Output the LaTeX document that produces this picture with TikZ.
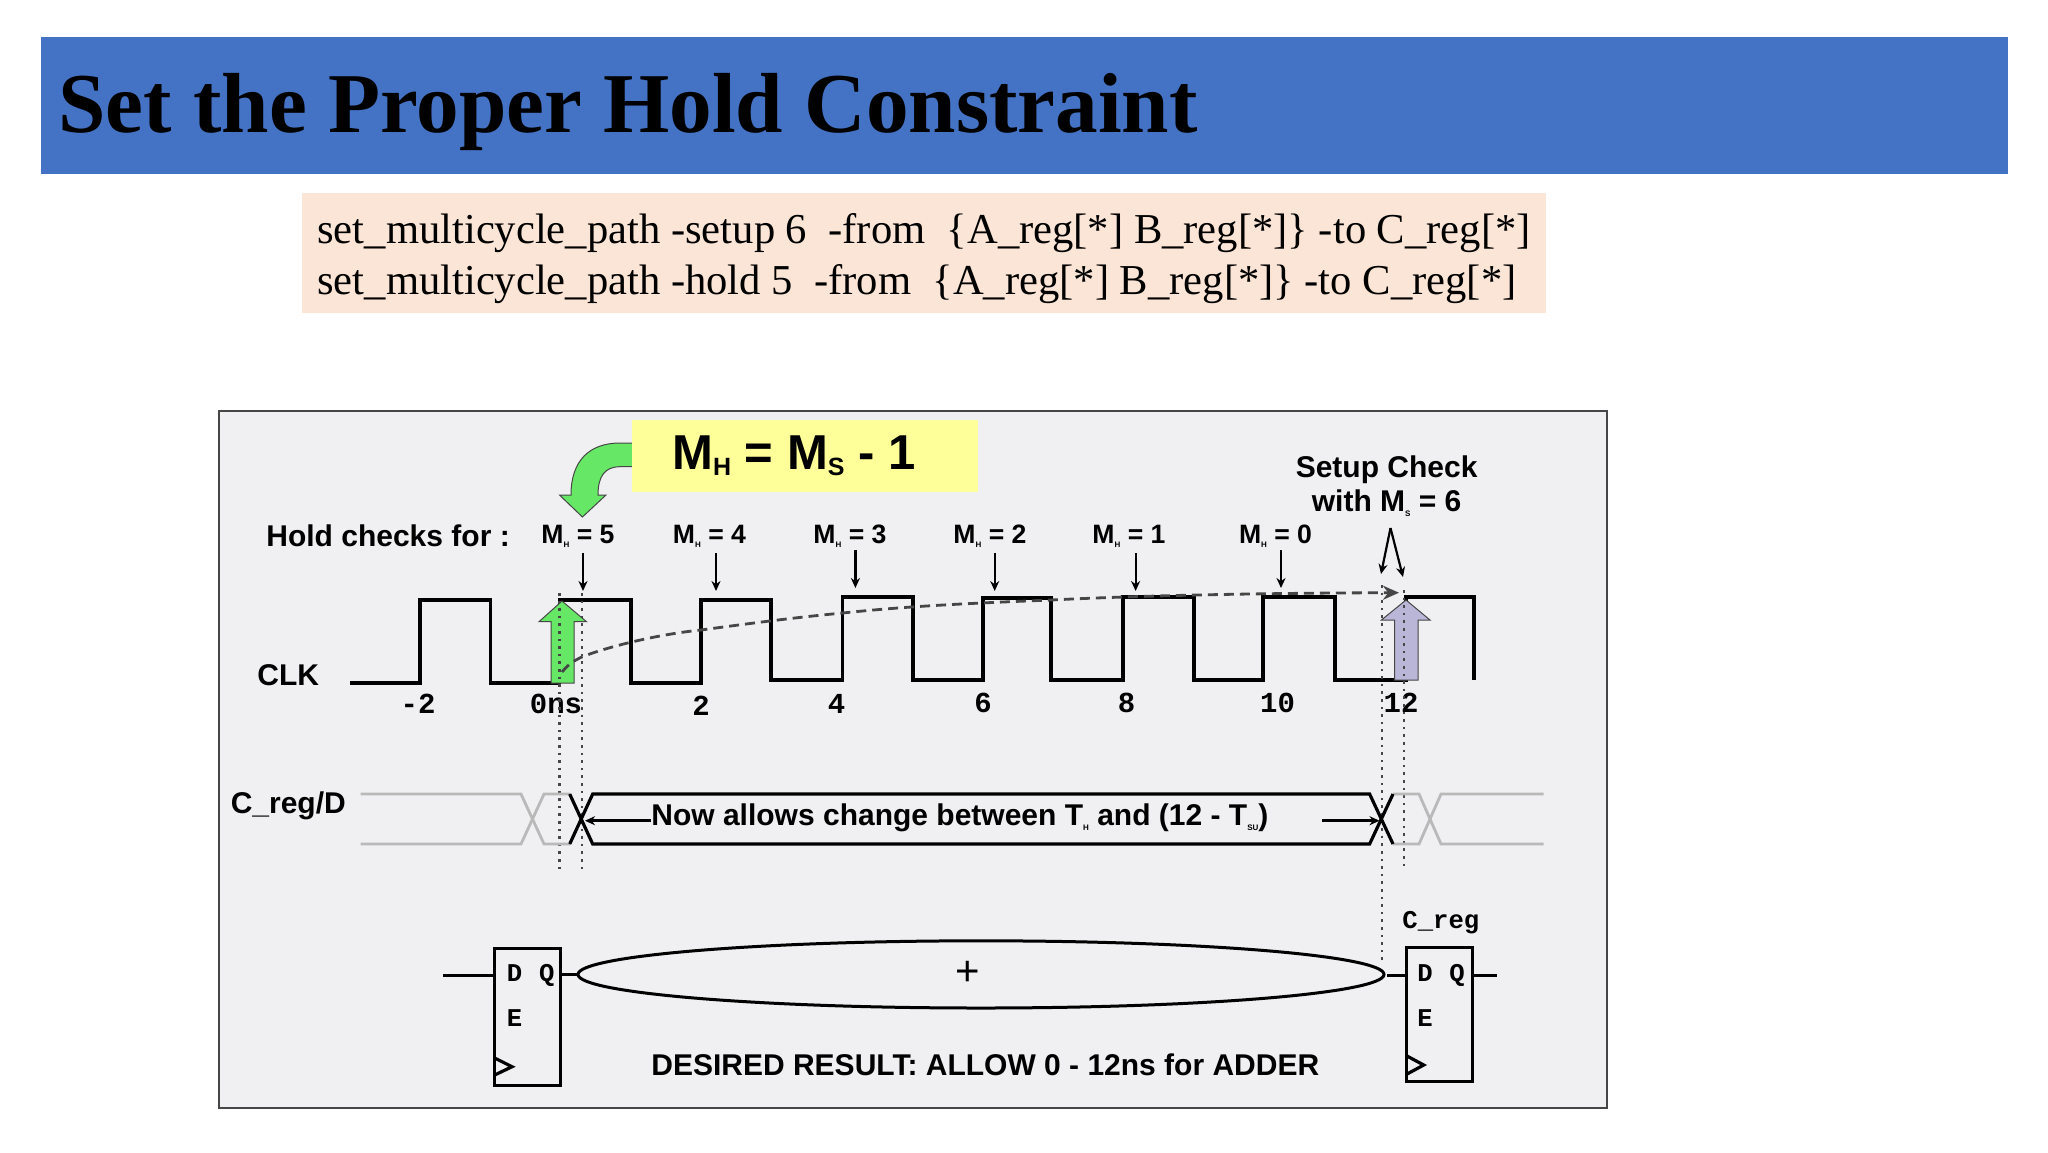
\documentclass[tikz,border=0pt]{standalone}
\usepackage{fontspec}
\setmainfont{Liberation Serif}
\setsansfont{Liberation Sans}
\setmonofont{Liberation Mono}
\usetikzlibrary{shapes.geometric,arrows.meta,positioning,calc}
\definecolor{bandblue}{RGB}{68,114,196}
\definecolor{codepeach}{RGB}{251,229,214}
\definecolor{panelgray}{RGB}{240,240,242}
\definecolor{noteyellow}{RGB}{255,255,153}
\definecolor{edgegreen}{RGB}{102,232,102}
\definecolor{edgepurple}{RGB}{186,182,216}
\definecolor{busgray}{RGB}{185,185,185}
\definecolor{darkgray}{RGB}{70,70,70}
\newcommand{\fs}[1]{\fontsize{#1}{#1}\selectfont}
\newcommand{\subH}[1]{\raisebox{-0.35ex}{\fontsize{4}{4}\selectfont #1}}
\tikzset{
  lbl/.style    ={inner sep=0pt, font=\sffamily\bfseries\fs{15}},
  lblw/.style   ={lbl, anchor=base west},
  lblc/.style   ={lbl, anchor=base},
  ticklbl/.style={inner sep=0pt, anchor=base, font=\ttfamily\bfseries\fs{14.5}},
  pinlbl/.style ={inner sep=0pt, anchor=base, font=\ttfamily\bfseries\fs{12.8}},
  codeline/.style={inner sep=0pt, anchor=base west, font=\fs{21.3}},
  ffbox/.style  ={rectangle, draw=black, line width=1.5pt, fill=none, inner sep=0pt,
                  minimum width=33pt},
  wire/.style   ={line width=1.6pt, draw=black},
  busblk/.style ={line width=1.6pt, draw=black},
  busgry/.style ={line width=1.4pt, draw=busgray},
  dots/.style   ={line width=1.2pt, draw=darkgray, dash pattern=on 1.3pt off 2.5pt},
  flow/.style   ={-{Stealth[length=5pt,width=4.5pt]}, line width=1.1pt, draw=black},
  bigup/.style  ={draw=darkgray, line width=0.5pt}
}
\begin{document}
\begin{tikzpicture}[x=0.5pt,y=-0.5pt]
\useasboundingbox (0,0) rectangle (2048,1152);
% Title band and code lines
\node[rectangle, fill=bandblue, minimum width=983.5pt, minimum height=68.5pt, inner sep=0pt, anchor=north west] (band) at (40.5,36.5) {};
\node[inner sep=0pt, anchor=base west, font=\bfseries\fs{42.6}] (title) at (58,132) {Set the Proper Hold Constraint};
\node[rectangle, fill=codepeach, minimum width=622pt, minimum height=60pt, inner sep=0pt, anchor=north west] (codebox) at (302,193) {};
\node[codeline] (setupline) at (317,243) {set\_multicycle\_path -setup 6\ \ -from\ \ \{A\_reg[*] B\_reg[*]\} -to C\_reg[*]};
\node[codeline] (holdline) at (317,294) {set\_multicycle\_path -hold 5\ \ -from\ \ \{A\_reg[*] B\_reg[*]\} -to C\_reg[*]};
% Panel
\node[rectangle, draw=darkgray, line width=1pt, fill=panelgray, minimum width=694pt, minimum height=348.5pt, inner sep=0pt, anchor=north west] (panel) at (218,410) {};
% Bent green arrow behind the yellow note
\filldraw[fill=edgegreen, draw=darkgray, line width=0.5pt] (634,443) -- (620,443) .. controls (590,443) and (571,460) .. (571,495) -- (559.5,495) -- (582.4,517) -- (606,495) -- (598,495) .. controls (598,476) and (605,466.7) .. (620,466.7) -- (634,466.7);
\node[rectangle, fill=noteyellow, minimum width=172.8pt, minimum height=36pt, inner sep=0pt, anchor=north west] (mhbox) at (632,419.5) {};
\node[lblw, font=\sffamily\bfseries\fs{24.5}] (mhtext) at (672,469) {M\raisebox{-0.25ex}{\fs{12.5}H} = M\raisebox{-0.25ex}{\fs{12.5}S} - 1};
% Hold checks
\node[lblw] (holdlbl) at (266,546.7) {Hold checks for :};
\foreach \x/\xa/\ya/\yb/\n/\m in {578/583/553/591/5/a, 709.5/716/553/591/4/b, 850/855.4/550/588/3/c, 990/994.7/553/591/2/d, 1129/1135.6/553/591/1/e, 1275.5/1281/550/588/0/f}{
  \node[lblc, font=\sffamily\bfseries\fs{13.3}] (hold\m) at (\x,543) {M\subH{H} = \n};
  \coordinate (hs\m) at (\xa,\ya);
  \coordinate (he\m) at (\xa,\yb);
  \draw[flow] (hs\m) -- (he\m);
}
\node[lblc] (setuplbla) at (1386.6,477) {Setup Check};
\node[lblc] (setuplblb) at (1386.6,511) {with M\subH{S} = 6};
\coordinate (apex) at (1390.5,528);
\coordinate (setupl) at (1381,574);
\coordinate (setupr) at (1403,577);
\draw[flow] (apex) -- (setupl);
\draw[flow] (apex) -- (setupr);
% Clock
\node[lblw] (clklbl) at (257,685) {CLK};
\draw[wire] (350,683) -- (420,683) -- (420,600) -- (490.6,600) -- (490.6,683) -- (559.5,683) -- (559.5,600) -- (631,600) -- (631,683) -- (701,683) -- (701,600) -- (771,600) -- (771,680) -- (842.6,680) -- (842.6,597) -- (913,597) -- (913,680) -- (983,680) -- (983,598) -- (1051,598) -- (1051,680) -- (1123,680) -- (1123,597) -- (1194,597) -- (1194,680) -- (1263,680) -- (1263,597) -- (1335,597) -- (1335,680) -- (1406,680) -- (1406,597) -- (1474,597) -- (1474,680);
\filldraw[fill=edgegreen, draw=darkgray, line width=0.5pt] (551,683) -- (551,621.7) -- (539,621.7) -- (562,601) -- (586.5,621.7) -- (574,621.7) -- (574,683) -- cycle;
\filldraw[fill=edgepurple, draw=darkgray, line width=0.5pt] (1394.5,680) -- (1394.5,620) -- (1381.4,620) -- (1406,600) -- (1430,620) -- (1418,620) -- (1418,680) -- cycle;
\foreach \x/\y/\t/\m in {418/713/-2/a, 556/713/0ns/b, 701/715/2/c, 836.5/713/4/d, 983/712/6/e, 1126.5/712/8/f, 1277.5/712/10/g, 1401/712/12/h}{
  \node[ticklbl] (tick\m) at (\x,\y) {\t};
}
% Dotted edges
\foreach \x/\ya/\yb/\m in {559.5/593/870/a, 582/593/871.6/b, 1381.8/585/963/c, 1404/590/866/d}{
  \coordinate (dots\m) at (\x,\ya);
  \coordinate (dote\m) at (\x,\yb);
  \draw[dots] (dots\m) -- (dote\m);
}
\draw[line width=1.4pt, draw=darkgray, dash pattern=on 5pt off 3pt, -{Stealth[length=8pt,width=7pt,open]}] (562,672) .. controls (570,662) and (578,659) .. (582.4,656.7) .. controls (610,646) and (660,634) .. (701,630) .. controls (760,622) and (800,617) .. (842.6,613) .. controls (900,607) and (950,604) .. (1051,600) .. controls (1150,595) and (1280,593) .. (1399,592.7);
% Data bus
\node[lblw] (buslbl) at (230.4,813) {C\_reg/D};
\draw[busgry] (360.5,794) -- (521,794) -- (544,844) -- (570,844);
\draw[busgry] (360.5,844) -- (521,844) -- (544,794) -- (570,794);
\draw[busgry] (1393,794) -- (1419,794) -- (1441,844) -- (1543.5,844);
\draw[busgry] (1393,844) -- (1419,844) -- (1441,794) -- (1543.5,794);
\draw[busblk] (569.7,794) -- (592.7,844) -- (1369.6,844) -- (1393,794);
\draw[busblk] (569.7,844) -- (592.7,794) -- (1369.6,794) -- (1393,844);
\node[lblw] (buschg) at (651,825) {Now allows change between T\subH{H} and (12 - T\subH{SU})};
\draw[flow, line width=1.6pt] (buschg.west |- 0,820.7) -- (585,820.7);
\draw[flow, line width=1.6pt] (1322,820.7) -- (1379.5,820.7);
% Registers
\node[ellipse, draw=black, line width=1.5pt, minimum width=403pt, minimum height=33.6pt, inner sep=0pt] (adder) at (981,974.4) {};
\node[inner sep=0pt, anchor=center, font=\sffamily\fs{21}] (plus) at (967.6,973) {+};
\node[ffbox, minimum height=68.5pt] (ffa) at (527.8,1016.5) {};
\node[ffbox, minimum height=67.3pt] (ffb) at (1439.8,1014.6) {};
\foreach \reg/\dx/\qx/\ya/\yb in {ffa/514.6/546.7/981.7/1026.7, ffb/1425/1457/981.7/1026}{
  \node[pinlbl] (\reg d) at (\dx,\ya) {D};
  \node[pinlbl] (\reg q) at (\qx,\ya) {Q};
  \node[pinlbl] (\reg e) at (\dx,\yb) {E};
}
\node[pinlbl, anchor=base west] (creg) at (1402,928) {C\_reg};
\coordinate (ffain) at (443,975.7);
\coordinate (ffbin) at (1387,975.7);
\coordinate (ffbout) at (1497,975.7);
\draw[wire] (ffain) -- (ffa.west |- ffain);
\draw[wire] (ffa.east |- adder.west) -- (adder.west);
\draw[wire] (ffbin) -- (ffb.west |- ffbin);
\draw[wire] (ffb.east |- ffbout) -- (ffbout);
\draw[line width=1.6pt] (494.7,1058) -- (512,1066.7) -- (494.7,1075);
\draw[line width=1.6pt] (1407,1056) -- (1423.7,1065) -- (1407,1074);
\node[lblw] (resultlbl) at (651,1075) {DESIRED RESULT: ALLOW 0 - 12ns for ADDER};
\end{tikzpicture}
\end{document}
